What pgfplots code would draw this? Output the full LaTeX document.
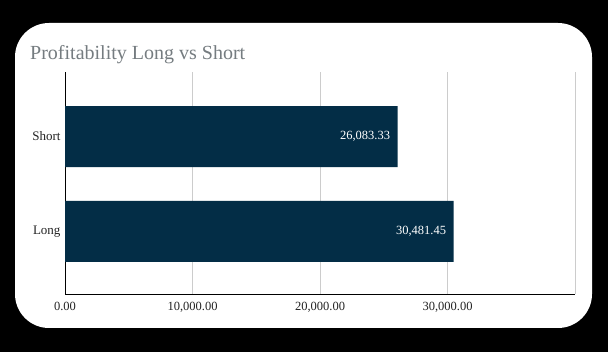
\documentclass[border=0pt]{standalone}
\usepackage{pgfplots}
\pgfplotsset{compat=1.18}
\usepackage{fontspec}
\setmainfont{Liberation Serif}
\definecolor{barc}{RGB}{3,45,70}
\definecolor{titlec}{RGB}{117,124,128}
\definecolor{gridc}{RGB}{204,204,204}
\definecolor{labc}{RGB}{34,34,34}
\begin{document}
\begin{tikzpicture}
\fill[black] (0,0) rectangle (608bp,352bp);
\useasboundingbox (0,0) rectangle (608bp,352bp);
\fill[white, rounded corners=34bp] (15bp,24bp) rectangle (592bp,329bp);
\node[anchor=base west, text=titlec, font=\fontsize{20bp}{22bp}\selectfont, inner sep=0pt] at (30bp,292.5bp) {Profitability Long vs Short};
\begin{axis}[
  at={(65bp,58bp)}, anchor=south west,
  scale only axis, width=510bp, height=222bp,
  xbar, bar width=61bp,
  xmin=0, xmax=40000, ymin=-0.66, ymax=1.68,
  scaled x ticks=false,
  axis x line*=bottom, axis y line*=left,
  axis line style={-, black, line width=0.9bp},
  xtick={0,10000,20000,30000,40000},
  xticklabels={0.00,{10,000.00},{20,000.00},{30,000.00},{}},
  ytick={0,1}, yticklabels={Long,Short},
  major tick length=0pt,
  xmajorgrids, grid style={gridc, line width=0.8bp},
  x tick label style={font=\fontsize{12.5bp}{14bp}\selectfont, text=labc, yshift=-5bp},
  y tick label style={font=\fontsize{13bp}{15bp}\selectfont, text=labc, xshift=-1bp},
  point meta=explicit symbolic,
  nodes near coords,
  nodes near coords style={anchor=east, xshift=-4bp, text=white, font=\fontsize{12.5bp}{14bp}\selectfont},
]
\addplot[fill=barc, draw=none] table[x=v, y=p, meta=lab] {
v p lab
30481.45 0 30,481.45
26083.33 1 26,083.33
};
\end{axis}
\end{tikzpicture}
\end{document}
